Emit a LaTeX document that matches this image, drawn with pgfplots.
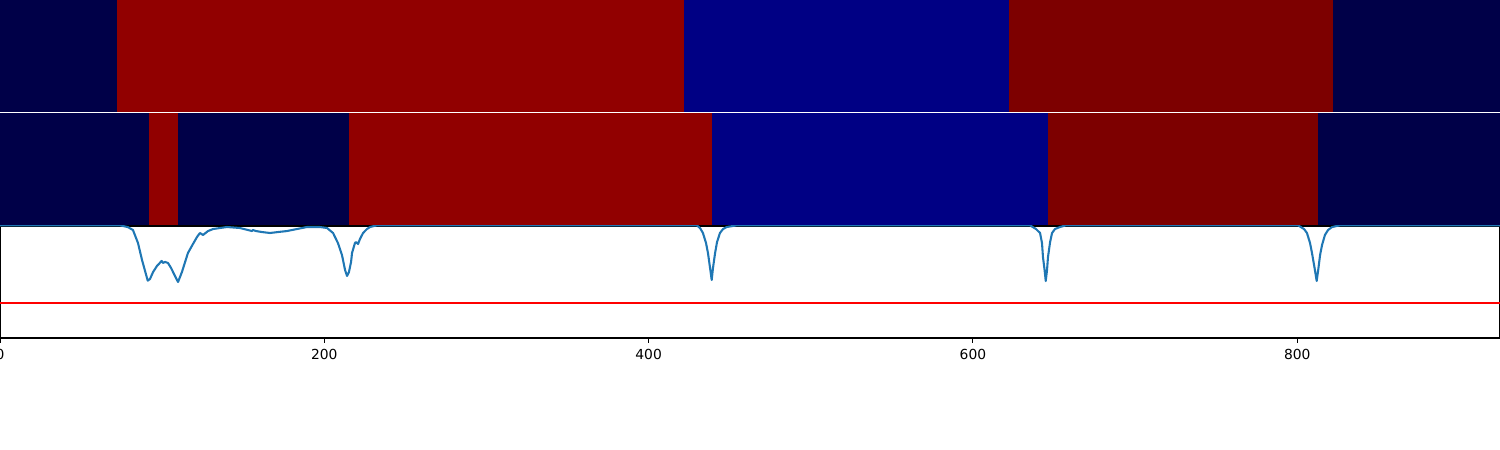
\documentclass[border=0pt]{standalone}
\usepackage{pgfplots}
\pgfplotsset{compat=1.18}
\usepackage{fontspec}
\setmainfont{DejaVu Sans}
\definecolor{cnavy}{RGB}{0,0,72}
\definecolor{cred}{RGB}{145,0,0}
\definecolor{cblue}{RGB}{0,0,132}
\definecolor{cdred}{RGB}{125,0,0}
\definecolor{mplblue}{HTML}{1F77B4}
\pgfplotsset{
  panel/.style={scale only axis, width=15in, height=1.12in, anchor=south west,
    xmin=0, xmax=925, ymin=0, ymax=1, ytick=\empty,
    axis line style={line width=0.8pt, black}},
  seg/.style={draw=none, fill=#1, forget plot},
}
\begin{document}
\begin{tikzpicture}
\useasboundingbox (0,0) rectangle (15in,4.5in);
% top panel
\begin{axis}[panel, at={(0,3.38in)}, xtick=\empty, axis x line*=top, axis y line=none]
\addplot[seg=cnavy] coordinates {(0,1) (72.2,1)} \closedcycle;
\addplot[seg=cred] coordinates {(72.2,1) (421.8,1)} \closedcycle;
\addplot[seg=cblue] coordinates {(421.8,1) (622.3,1)} \closedcycle;
\addplot[seg=cdred] coordinates {(622.3,1) (822.1,1)} \closedcycle;
\addplot[seg=cnavy] coordinates {(822.1,1) (925,1)} \closedcycle;
\end{axis}
% middle panel
\begin{axis}[panel, at={(0,2.25in)}, xtick=\empty, hide axis]
\addplot[seg=cnavy] coordinates {(0,1) (91.9,1)} \closedcycle;
\addplot[seg=cred] coordinates {(91.9,1) (109.8,1)} \closedcycle;
\addplot[seg=cnavy] coordinates {(109.8,1) (215.2,1)} \closedcycle;
\addplot[seg=cred] coordinates {(215.2,1) (439.1,1)} \closedcycle;
\addplot[seg=cblue] coordinates {(439.1,1) (646.3,1)} \closedcycle;
\addplot[seg=cdred] coordinates {(646.3,1) (812.8,1)} \closedcycle;
\addplot[seg=cnavy] coordinates {(812.8,1) (925,1)} \closedcycle;
\end{axis}
% bottom panel
\begin{axis}[panel, at={(0,1.12in)}, height=1.12in,
  xtick={0,200,400,600,800}, xtick pos=left, tick align=outside,
  major tick length=3.5pt, every tick/.style={black, line width=0.8pt},
  tick label style={font=\fontsize{10}{12}\selectfont},
  xticklabel style={yshift=-1pt},
  /pgf/number format/assume math mode=true]
\addplot[mplblue, line width=1.5pt, line join=round, line cap=round] coordinates {
(0,1.006) (74.0,1.006) (78.9,0.99) (82.0,0.964) (85.1,0.848) (87.6,0.696)
(91.1,0.512) (92.5,0.527) (94.4,0.589) (96.8,0.643) (99.7,0.688) (100.5,0.670)
(101.8,0.679) (103.6,0.670) (105.5,0.625) (107.9,0.554) (109.8,0.5) (112.2,0.589)
(115.9,0.759) (119.0,0.839) (121.5,0.902) (123.3,0.9375) (125.2,0.92) (128.3,0.955)
(131.4,0.973) (135.7,0.982) (140.0,0.991) (148.0,0.982) (152.9,0.964) (155.4,0.955)
(156.0,0.964) (157.9,0.955) (161.6,0.946) (166.5,0.9375) (171.4,0.946) (177.0,0.955)
(183.2,0.973) (189.3,0.991) (197.3,0.991) (201.7,0.982) (205.4,0.9375) (208.4,0.848)
(210.9,0.741) (212.8,0.607) (214.0,0.554) (215.2,0.589) (216.5,0.679) (217.1,0.759)
(218.9,0.848) (219.5,0.857) (220.8,0.839) (222.0,0.884) (223.9,0.9375) (226.3,0.973)
(228.2,0.991) (232.5,1.006)
(429.7,1.006) (431.7,0.982) (433.5,0.9375) (435.4,0.848) (436.6,0.759) (437.9,0.625)
(438.9,0.518) (439.7,0.625) (441.0,0.759) (442.2,0.857) (444.0,0.9375) (445.9,0.973)
(448.2,0.991) (454.5,1.006)
(635.2,1.006) (638.9,0.973) (641.4,0.9375) (642.6,0.848) (643.2,0.723) (644.2,0.607)
(644.9,0.509) (645.7,0.607) (646.3,0.723) (647.6,0.857) (648.8,0.9375) (650.6,0.973)
(653.7,0.991) (657.4,1.006)
(800.5,1.006) (804.2,0.973) (806.0,0.9375) (807.9,0.848) (809.1,0.759) (810.7,0.625)
(812.0,0.509) (813.1,0.625) (814.1,0.741) (815.3,0.83) (817.1,0.92) (819.0,0.964)
(821.5,0.991) (826.4,1.006) (925,1.006)
};
\addplot[red, line width=1.5pt] coordinates {(0,0.3125) (925,0.3125)};
\end{axis}
\end{tikzpicture}
\end{document}
